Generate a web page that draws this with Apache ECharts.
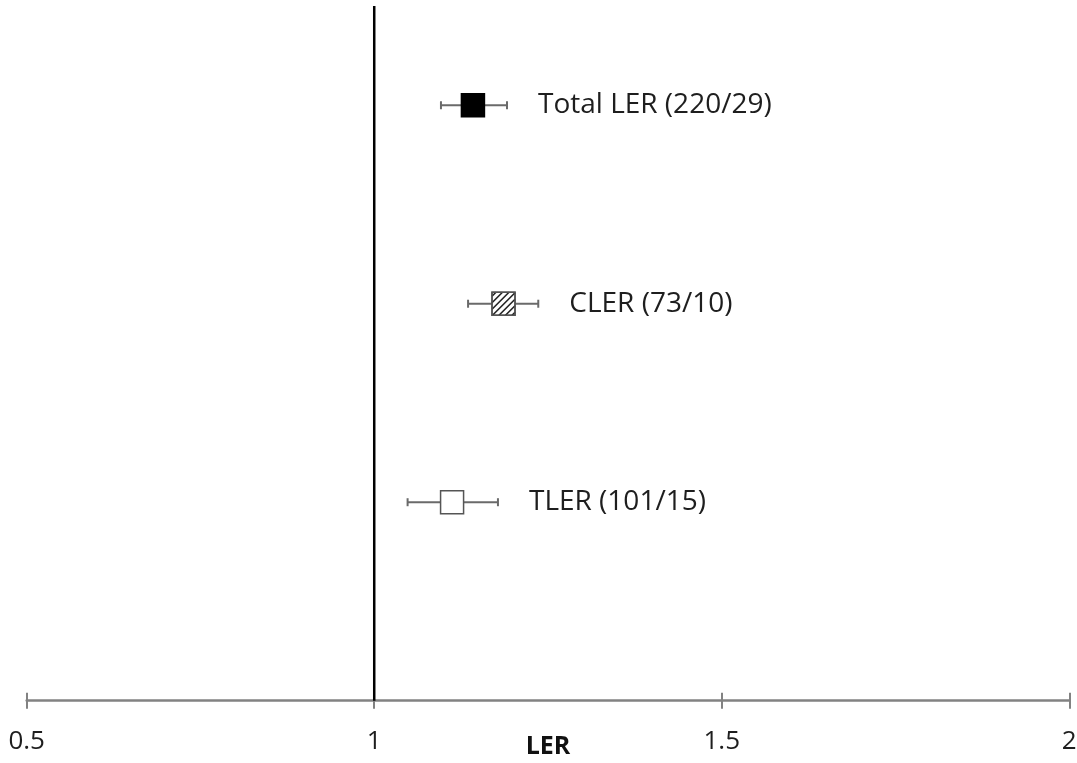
<!DOCTYPE html>
<html>
<head>
<meta charset="utf-8">
<style>
  html, body { margin: 0; padding: 0; background: #fff; }
  #chart { width: 1077px; height: 763px; }
</style>
<script src="https://cdn.jsdelivr.net/npm/echarts@6/dist/echarts.min.js"></script>
</head>
<body>
<div id="chart"></div>
<script>
// Land equivalent ratio estimates with confidence intervals
const groups = ['TLER (101/15)', 'CLER (73/10)', 'Total LER (220/29)'];
const ler = [1.112, 1.186, 1.142];
const ciLow = [1.048, 1.135, 1.096];
const ciHigh = [1.178, 1.236, 1.191];
const xTicks = [0.5, 1, 1.5, 2];
const refValue = 1;

const FONT = '"Open Sans", "Liberation Sans", sans-serif';
const markerKinds = ['open', 'hatched', 'solid'];

const rows = groups.map((g, i) => [ler[i], ciLow[i], ciHigh[i], i + 1, i]);

function renderForest(params, api) {
  const mean = api.value(0), lo = api.value(1), hi = api.value(2), row = api.value(3);
  const kind = markerKinds[api.value(4)];
  const c = api.coord([mean, row]);
  const pl = api.coord([lo, row]);
  const ph = api.coord([hi, row]);
  const half = 11.5, cap = 4;
  const whisker = { stroke: '#6a6a6a', lineWidth: 2 };
  const children = [
    { type: 'line', shape: { x1: pl[0], y1: c[1], x2: ph[0], y2: c[1] }, style: whisker },
    { type: 'line', shape: { x1: pl[0], y1: c[1] - cap, x2: pl[0], y2: c[1] + cap }, style: whisker },
    { type: 'line', shape: { x1: ph[0], y1: c[1] - cap, x2: ph[0], y2: c[1] + cap }, style: whisker }
  ];
  const x0 = c[0] - half, y0 = c[1] - half, s = half * 2;
  let fill = '#fff', stroke = '#555';
  if (kind === 'solid') { fill = '#000'; stroke = '#000'; }
  children.push({ type: 'rect', shape: { x: x0, y: y0, width: s, height: s },
    style: { fill: fill, stroke: stroke, lineWidth: 1.5 } });
  if (kind === 'hatched') {
    // rising diagonal hatch lines (x + y = k, screen y flipped) clipped to the square
    for (let k = 4; k < 2 * s; k += 6.5) {
      const ax = Math.max(0, k - s), bx = Math.min(s, k);
      children.push({ type: 'line',
        shape: { x1: x0 + ax, y1: y0 + (k - ax), x2: x0 + bx, y2: y0 + (k - bx) },
        style: { stroke: '#222', lineWidth: 1.6 } });
    }
    children.push({ type: 'rect', shape: { x: x0, y: y0, width: s, height: s },
      style: { fill: 'none', stroke: '#555', lineWidth: 1.5 } });
  }
  children.push({ type: 'text', x: ph[0] + 31, y: c[1],
    style: { text: groups[params.dataIndex], fill: '#1e1e1e', font: '28px ' + FONT,
      textAlign: 'left', textVerticalAlign: 'middle' } });
  return { type: 'group', children: children };
}

const chart = echarts.init(document.getElementById('chart'));
chart.setOption({
  animation: false,
  backgroundColor: '#fff',
  grid: { left: 26.7, right: 7.7, top: 6, bottom: 62.3, containLabel: false, outerBoundsMode: 'none' },
  xAxis: [
    {
      type: 'value', min: xTicks[0], max: xTicks[xTicks.length - 1], interval: 0.5,
      name: 'LER', nameLocation: 'middle', nameGap: 34, nameMoveOverlap: false,
      nameTextStyle: { fontFamily: FONT, fontWeight: 'bold', fontSize: 25, color: '#111' },
      axisLine: { show: true, lineStyle: { color: '#828282', width: 2.5 } },
      axisTick: { show: true, inside: false, length: 8, lineStyle: { color: '#828282', width: 2 } },
      axisLabel: { fontFamily: FONT, fontSize: 26, color: '#1e1e1e', margin: 28,
        hideOverlap: false, formatter: v => String(v) },
      splitLine: { show: false }
    },
    {
      type: 'value', min: xTicks[0], max: xTicks[xTicks.length - 1], interval: 0.5,
      position: 'bottom',
      axisLine: { show: false },
      axisTick: { show: true, inside: true, length: 8, lineStyle: { color: '#828282', width: 2 } },
      axisLabel: { show: false },
      splitLine: { show: false }
    }
  ],
  yAxis: { type: 'value', min: 0, max: 3.5, show: false },
  series: [
    {
      type: 'line', xAxisIndex: 0, symbol: 'none', z: 1,
      data: [[refValue, 0], [refValue, 3.5]],
      lineStyle: { color: '#000', width: 2.5 }
    },
    {
      type: 'custom', xAxisIndex: 0, z: 3,
      renderItem: renderForest,
      encode: { x: [0, 1, 2], y: 3 },
      data: rows
    }
  ]
});
</script>
</body>
</html>
